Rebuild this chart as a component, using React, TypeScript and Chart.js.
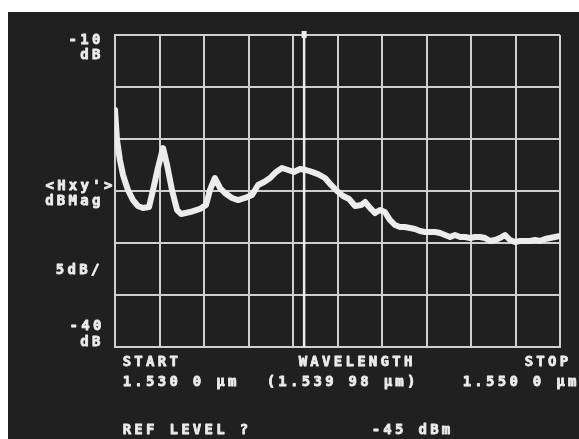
import React, { useEffect, useRef } from "react";
import { Chart, registerables } from "chart.js";
Chart.register(...registerables);

// Trace: wavelength (µm) and level (dB)
const WAVELENGTH_UM = [
  1.53, 1.53009, 1.53022, 1.53036, 1.53058, 1.53081, 1.53103, 1.53126, 1.53153, 1.53171,
  1.53193, 1.53216, 1.53234, 1.53256, 1.53279, 1.53297, 1.53337, 1.53382, 1.53409, 1.53427,
  1.53449, 1.53472, 1.53494, 1.53526, 1.53553, 1.53584, 1.53616, 1.53643, 1.5367, 1.53697,
  1.53724, 1.53751, 1.53778, 1.53804, 1.53831, 1.53858, 1.53885, 1.53912, 1.53944, 1.53971,
  1.53998, 1.54025, 1.54052, 1.54079, 1.54106, 1.54124, 1.54146, 1.54169, 1.54191, 1.54213,
  1.54236, 1.54258, 1.54281, 1.54303, 1.54326, 1.54348, 1.54371, 1.54393, 1.54416, 1.54438,
  1.54461, 1.54483, 1.54506, 1.54528, 1.54551, 1.54573, 1.54596, 1.54618, 1.5464, 1.54663,
  1.54685, 1.54708, 1.5473, 1.54753, 1.54775, 1.54798, 1.5482, 1.54843, 1.54865, 1.54888,
  1.5491, 1.54933, 1.54955, 1.54978, 1.55,
];
const LEVEL_DB = [
  -17.21, -20.1, -22.02, -23.46, -24.9, -25.87, -26.44, -26.63, -26.54, -24.9,
  -22.79, -20.87, -22.5, -24.9, -26.83, -27.21, -27.02, -26.73, -26.35, -24.9,
  -23.75, -24.71, -25.19, -25.67, -25.87, -25.67, -25.38, -24.42, -24.13, -23.75,
  -23.17, -22.79, -22.98, -23.17, -22.88, -22.98, -23.17, -23.37, -23.75, -24.42,
  -25.0, -25.48, -25.77, -26.44, -26.35, -26.06, -26.63, -27.12, -26.83, -27.02,
  -27.79, -28.27, -28.46, -28.46, -28.56, -28.65, -28.85, -28.94, -28.94, -28.94,
  -29.04, -29.23, -29.42, -29.23, -29.42, -29.42, -29.52, -29.42, -29.42, -29.52,
  -29.81, -29.71, -29.52, -29.23, -29.71, -29.9, -29.81, -29.81, -29.81, -29.71,
  -29.81, -29.62, -29.52, -29.42, -29.33,
];
const X_GRID_UM = [1.53, 1.532, 1.534, 1.536, 1.538, 1.54, 1.542, 1.544, 1.546, 1.548, 1.55];
const Y_GRID_DB = [-10, -15, -20, -25, -30, -35, -40];
const MARKER_UM = 1.5385;

const TOP_LABEL = ["-10", "dB"];
const MID_LABEL = ["<Hxy'>", "dBMag"];
const SCALE_LABEL = "5dB/";
const BOTTOM_LABEL = ["-40", "dB"];
const START_LABEL = ["START", "1.530 0 µm"];
const CENTER_LABEL = ["WAVELENGTH", "(1.539 98 µm)"];
const STOP_LABEL = ["STOP", "1.550 0 µm"];
const REF_LABEL = "REF LEVEL ?";
const REF_VALUE = "-45 dBm";

const BG = "#202020";
const FG = "#ececec";
const GRID = "#cfcfcf";
const PITCH = 11.7;

function mono(ctx: CanvasRenderingContext2D, text: string, x: number, y: number, alignRight = false) {
  const start = alignRight ? x - text.length * PITCH : x;
  ctx.save();
  ctx.fillStyle = FG;
  ctx.strokeStyle = FG;
  ctx.lineWidth = 0.8;
  ctx.lineJoin = "round";
  ctx.font = "bold 14px 'DejaVu Sans Mono', monospace";
  ctx.textAlign = "center";
  ctx.textBaseline = "middle";
  for (let i = 0; i < text.length; i++) {
    const cx = start + i * PITCH + PITCH / 2;
    ctx.fillText(text[i], cx, y);
    ctx.strokeText(text[i], cx, y);
  }
  ctx.restore();
}

const screenPlugin = {
  id: "screen",
  beforeDraw(chart: any) {
    const ctx = chart.ctx;
    ctx.save();
    ctx.fillStyle = BG;
    ctx.fillRect(0, 0, chart.width, chart.height);
    ctx.restore();
  },
  afterDraw(chart: any) {
    const ctx: CanvasRenderingContext2D = chart.ctx;
    const { left, top, bottom } = chart.chartArea;
    const xs = chart.scales.x;
    const ys = chart.scales.y;
    // marker
    const mx = xs.getPixelForValue(MARKER_UM);
    ctx.save();
    ctx.strokeStyle = FG;
    ctx.lineWidth = 2.5;
    ctx.beginPath();
    ctx.moveTo(mx, top - 3);
    ctx.lineTo(mx, bottom);
    ctx.stroke();
    ctx.fillStyle = FG;
    ctx.fillRect(mx - 2.5, top - 4, 5, 7);
    ctx.restore();

    const yMid = ys.getPixelForValue(-25);
    mono(ctx, TOP_LABEL[0], left - 13, top + 5, true);
    mono(ctx, TOP_LABEL[1], left - 13, top + 20, true);
    mono(ctx, MID_LABEL[0], left - 1, yMid - 5, true);
    mono(ctx, MID_LABEL[1], left - 13, yMid + 10, true);
    mono(ctx, SCALE_LABEL, left - 14, ys.getPixelForValue(-32.5) + 1, true);
    mono(ctx, BOTTOM_LABEL[0], left - 12, bottom - 21, true);
    mono(ctx, BOTTOM_LABEL[1], left - 13, bottom - 5, true);

    mono(ctx, START_LABEL[0], left + 6, bottom + 15);
    mono(ctx, START_LABEL[1], left + 6, bottom + 35);
    mono(ctx, CENTER_LABEL[0], left + 182, bottom + 15);
    mono(ctx, CENTER_LABEL[1], left + 150, bottom + 35);
    mono(ctx, STOP_LABEL[0], left + 408, bottom + 15);
    mono(ctx, STOP_LABEL[1], left + 346, bottom + 35);
    mono(ctx, REF_LABEL, left + 6, bottom + 83);
    mono(ctx, REF_VALUE, left + 255, bottom + 83);
  },
};

export default function App() {
  const ref = useRef<HTMLCanvasElement>(null);
  useEffect(() => {
    if (!ref.current) return;
    const chart = new Chart(ref.current, {
      type: "line",
      data: {
        datasets: [
          {
            data: WAVELENGTH_UM.map((w, i) => ({ x: w, y: LEVEL_DB[i] })),
            borderColor: FG,
            borderWidth: 6,
            pointRadius: 0,
            tension: 0,
            borderJoinStyle: "round",
            borderCapStyle: "round",
          },
        ],
      },
      options: {
        animation: false,
        responsive: false,
        layout: { padding: { left: 107, top: 23, right: 19, bottom: 92 } },
        plugins: { legend: { display: false }, tooltip: { enabled: false } },
        scales: {
          x: {
            type: "linear",
            min: 1.53,
            max: 1.55,
            afterBuildTicks: (s: any) => {
              s.ticks = X_GRID_UM.map((v) => ({ value: v }));
            },
            ticks: { display: false },
            grid: { color: GRID, lineWidth: 2, drawTicks: false },
            border: { display: true, color: GRID, width: 2 },
          },
          y: {
            type: "linear",
            min: -40,
            max: -10,
            afterBuildTicks: (s: any) => {
              s.ticks = Y_GRID_DB.map((v) => ({ value: v }));
            },
            ticks: { display: false },
            grid: { color: GRID, lineWidth: 2, drawTicks: false },
            border: { display: true, color: GRID, width: 2 },
          },
        },
      },
      plugins: [screenPlugin],
    });
    return () => chart.destroy();
  }, []);
  return (
    <div style={{ position: "fixed", left: 8, top: 12, width: 571, height: 427 }}>
      <canvas ref={ref} width={571} height={427} style={{ display: "block" }} />
    </div>
  );
}
